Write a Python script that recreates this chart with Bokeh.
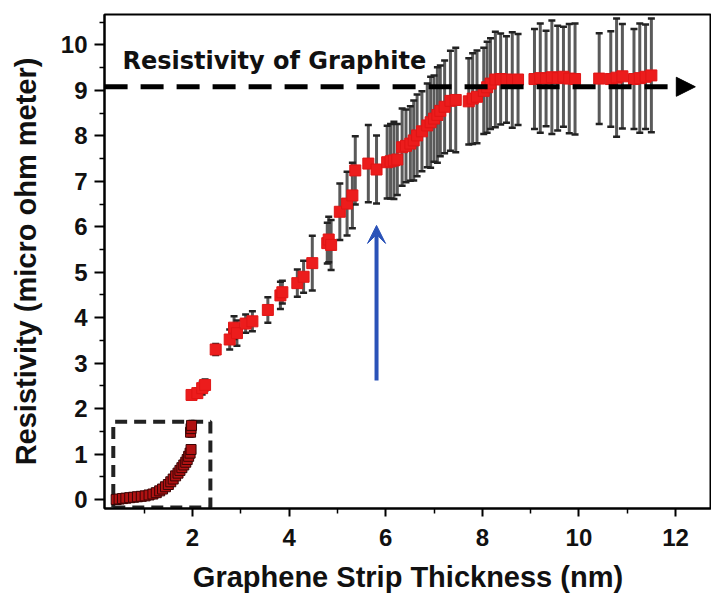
from bokeh.plotting import figure
from bokeh.models import (ColumnDataSource, Whisker, TeeHead, Arrow, NormalHead,
                          VeeHead, Label, Range1d, FixedTicker)
from bokeh.embed import file_html
from bokeh.resources import INLINE

# ---- data: thin strips (inside dashed box) ----
thin_x = [0.42, 0.48, 0.55, 0.62, 0.70, 0.78, 0.86, 0.94, 1.02, 1.10,
          1.18, 1.25, 1.32, 1.38, 1.44, 1.50, 1.55, 1.60, 1.65, 1.70,
          1.74, 1.78, 1.82, 1.86, 1.89, 1.92, 1.95, 1.97, 1.96, 1.97, 1.98]
thin_y = [0.00, 0.01, 0.02, 0.03, 0.04, 0.05, 0.06, 0.07, 0.08, 0.10,
          0.12, 0.15, 0.19, 0.23, 0.28, 0.33, 0.39, 0.45, 0.52, 0.58,
          0.64, 0.70, 0.76, 0.82, 0.88, 0.95, 1.02, 1.10, 1.48, 1.56, 1.63]
thin_err = [0.03, 0.03, 0.03, 0.03, 0.04, 0.04, 0.04, 0.04, 0.04, 0.05,
            0.05, 0.05, 0.05, 0.06, 0.06, 0.06, 0.06, 0.07, 0.07, 0.07,
            0.08, 0.08, 0.08, 0.08, 0.09, 0.09, 0.09, 0.10, 0.10, 0.10, 0.10]

# ---- data: thicker strips ----
thick_x = [1.98, 2.10, 2.20, 2.26, 2.48, 2.77, 2.86, 2.92, 3.10, 3.24,
           3.56, 3.82, 3.86, 4.17, 4.30, 4.48, 4.79, 4.82, 4.87, 5.05,
           5.20, 5.31, 5.37, 5.64, 5.81, 6.03, 6.10, 6.17, 6.24, 6.34,
           6.42, 6.51, 6.58, 6.65, 6.75, 6.86, 6.93, 7.00, 7.07, 7.13,
           7.22, 7.34, 7.45, 7.72, 7.80, 7.89, 8.03, 8.10, 8.17, 8.27,
           8.38, 8.50, 8.62, 8.74, 9.08, 9.20, 9.32, 9.44, 9.56, 9.68,
           9.80, 9.92, 10.42, 10.66, 10.78, 10.90, 11.14, 11.26, 11.38, 11.50]
thick_y = [2.30, 2.34, 2.45, 2.52, 3.30, 3.52, 3.78, 3.66, 3.87, 3.92,
           4.17, 4.49, 4.56, 4.76, 4.90, 5.20, 5.64, 5.72, 5.60, 6.33,
           6.51, 6.69, 7.24, 7.39, 7.26, 7.42, 7.44, 7.46, 7.48, 7.75,
           7.78, 7.83, 7.90, 8.01, 8.10, 8.23, 8.30, 8.38, 8.46, 8.55,
           8.64, 8.77, 8.79, 8.76, 8.82, 8.86, 8.99, 9.07, 9.15, 9.24,
           9.25, 9.24, 9.23, 9.24, 9.25, 9.27, 9.26, 9.29, 9.27, 9.30,
           9.26, 9.25, 9.26, 9.25, 9.28, 9.31, 9.25, 9.27, 9.30, 9.33]
thick_err = [0.08, 0.10, 0.14, 0.12, 0.12, 0.22, 0.25, 0.28, 0.20, 0.22,
             0.28, 0.30, 0.25, 0.30, 0.35, 0.60, 0.45, 0.50, 0.55, 0.62,
             0.70, 0.72, 0.75, 0.85, 0.75, 0.80, 0.82, 0.85, 0.78, 0.85,
             0.80, 0.82, 0.88, 0.90, 0.88, 0.92, 1.00, 0.95, 1.05, 1.00,
             1.02, 1.10, 1.15, 0.95, 1.00, 1.02, 0.95, 1.00, 1.00, 1.05,
             1.00, 0.95, 1.05, 1.00, 1.10, 1.20, 1.05, 1.25, 1.15, 1.10,
             1.20, 1.22, 1.00, 1.05, 1.30, 1.15, 1.10, 1.20, 1.15, 1.25]

graphite_resistivity = 9.08
graphite_label = "Resistivity of Graphite"
x_ticks = [2, 4, 6, 8, 10, 12]
y_ticks = [0, 1, 2, 3, 4, 5, 6, 7, 8, 9, 10]
x_title = "Graphene Strip Thickness (nm)"
y_title = "Resistivity (micro ohm meter)"
box_x = [0.36, 2.37]
box_y = [-0.175, 1.71]
arrow_x = 5.81
arrow_y = [2.62, 6.03]
graphite_arrow_x = [0.18, 12.41]


def src(xs, ys, es):
    return ColumnDataSource(dict(
        x=xs, y=ys,
        upper=[a + b for a, b in zip(ys, es)],
        lower=[a - b for a, b in zip(ys, es)]))


thin_src = src(thin_x, thin_y, thin_err)
thick_src = src(thick_x, thick_y, thick_err)

p = figure(width=711, height=606, output_backend="svg", toolbar_location=None,
           x_range=Range1d(0.178, 12.745), y_range=Range1d(-0.198, 10.67),
           min_border_left=104, min_border_top=14, min_border_bottom=98,
           min_border_right=0)
p.grid.visible = False
p.outline_line_color = "black"
p.outline_line_width = 2
p.background_fill_color = "white"
p.border_fill_color = "white"

TICK_FONT = "Liberation Sans"
for ax in (p.xaxis[0], p.yaxis[0]):
    ax.axis_line_width = 2
    ax.axis_line_color = "black"
    ax.major_tick_line_width = 2
    ax.minor_tick_line_width = 1.5
    ax.major_tick_in = 0
    ax.minor_tick_in = 0
    ax.major_label_text_font = TICK_FONT
    ax.major_label_text_font_style = "bold"
    ax.major_label_text_font_size = "24px"
    ax.major_label_text_color = "#111111"
    ax.axis_label_text_font = TICK_FONT
    ax.axis_label_text_font_style = "bold"
    ax.axis_label_text_font_size = "29px"
    ax.axis_label_text_color = "#111111"

p.xaxis.ticker = FixedTicker(ticks=x_ticks, minor_ticks=[1, 3, 5, 7, 9, 11])
p.yaxis.ticker = FixedTicker(ticks=y_ticks,
                             minor_ticks=[v + 0.5 for v in range(-1, 11)])
p.xaxis.major_tick_out = 8
p.xaxis.minor_tick_out = 5
p.yaxis.major_tick_out = 10
p.yaxis.minor_tick_out = 5
p.xaxis.major_label_standoff = 12
p.yaxis.major_label_standoff = 7
p.xaxis.axis_label = x_title
p.yaxis.axis_label = y_title
p.xaxis.axis_label_standoff = 12
p.yaxis.axis_label_standoff = 16

# graphite reference dashed arrow
p.add_layout(Arrow(x_start=graphite_arrow_x[0], y_start=graphite_resistivity,
                   x_end=graphite_arrow_x[1], y_end=graphite_resistivity,
                   line_color="black", line_width=5, line_dash="23 13",
                   end=NormalHead(size=19, fill_color="black", line_color="black",
                                  line_width=1)))

# dashed box around the thin region
p.line([box_x[0], box_x[1], box_x[1], box_x[0], box_x[0]],
       [box_y[0], box_y[0], box_y[1], box_y[1], box_y[0]],
       line_color="#222222", line_width=4, line_dash="12 7")

# error bars
p.add_layout(Whisker(source=thick_src, base="x", upper="upper", lower="lower",
                     line_color="#5a5a5a", line_width=3, level="underlay",
                     upper_head=TeeHead(size=7, line_color="#222222", line_width=2.5),
                     lower_head=TeeHead(size=7, line_color="#222222", line_width=2.5)))
p.add_layout(Whisker(source=thin_src, base="x", upper="upper", lower="lower",
                     line_color="#111111", line_width=2, level="underlay",
                     upper_head=TeeHead(size=6, line_color="#111111", line_width=2),
                     lower_head=TeeHead(size=6, line_color="#111111", line_width=2)))

p.scatter("x", "y", source=thick_src, marker="square", size=11,
          fill_color="#ec1c1c", line_color="#e01515", line_width=1)
p.scatter("x", "y", source=thin_src, marker="square", size=10,
          fill_color="#b01212", line_color="#3a0505", line_width=1)

# blue arrow
p.add_layout(Arrow(x_start=arrow_x, y_start=arrow_y[0], x_end=arrow_x, y_end=arrow_y[1],
                   line_color="#2a52b8", line_width=4,
                   end=VeeHead(size=18, fill_color="#2a52b8", line_color="#2a52b8")))

p.add_layout(Label(x=0.55, y=9.64, text=graphite_label, text_font="DejaVu Sans",
                   text_font_style="bold", text_font_size="24px",
                   text_color="#111111", text_baseline="alphabetic"))

open("out.html", "w").write(file_html(p, INLINE))
